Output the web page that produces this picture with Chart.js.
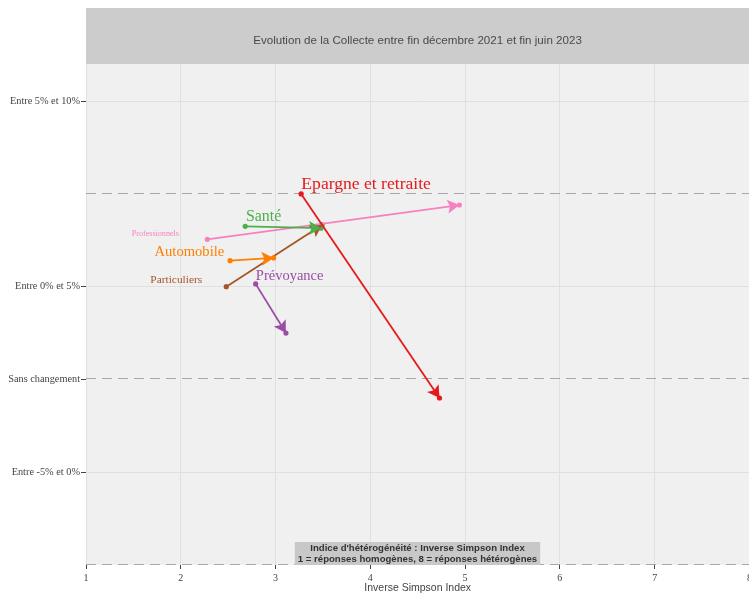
<!DOCTYPE html>
<html>
<head>
<meta charset="utf-8">
<script src="https://cdn.jsdelivr.net/npm/chart.js@4.4.0/dist/chart.umd.min.js"></script>
<style>
  html, body { margin: 0; padding: 0; background: #ffffff; overflow: hidden; }
  #wrap { width: 749px; height: 593px; position: relative; overflow: hidden; }
</style>
</head>
<body>
<div id="wrap"><canvas id="c" width="752" height="593"></canvas></div>
<script>
// ---- Data ----
const seriesNames = ['Epargne et retraite', 'Santé', 'Professionnels', 'Automobile', 'Particuliers', 'Prévoyance'];
const xStart = [3.27, 2.68, 2.28, 2.52, 2.48, 2.79];
const yStart = [2.00, 1.65, 1.51, 1.28, 1.00, 1.03];
const xEnd   = [4.73, 3.48, 4.94, 2.98, 3.49, 3.11];
const yEnd   = [-0.20, 1.63, 1.88, 1.31, 1.665, 0.50];

const yTickValues = [3, 1, 0, -1];
const yTickLabels = ['Entre 5% et 10%', 'Entre 0% et 5%', 'Sans changement', 'Entre -5% et 0%'];
const xTickValues = [1, 2, 3, 4, 5, 6, 7, 8];
const refLines = [2, 0, -2];

const titleText = 'Evolution de la Collecte entre fin décembre 2021 et fin juin 2023';
const xAxisTitle = 'Inverse Simpson Index';
const noteLines = ["Indice d'hétérogénéité : Inverse Simpson Index", '1 = réponses homogènes, 8 = réponses hétérogènes'];

// ---- Styles (not data) ----
const colors = ['#e41a1c', '#4daf4a', '#f781bf', '#ff7f00', '#a65628', '#984ea3'];
const labelStyle = [
  { size: 17.6, dx: 65,  dy: -10 },
  { size: 15.9, dx: 18.4, dy: -10 },
  { size: 8.1,  dx: -52, dy: -5.4 },
  { size: 14.6, dx: -40.7, dy: -8.7 },
  { size: 11.4, dx: -50, dy: -6.7 },
  { size: 14.5, dx: 34,  dy: -7.7 }
];
const SERIF = '"Liberation Serif", "Times New Roman", serif';
const SANS = '"Liberation Sans", Arial, sans-serif';

const datasets = seriesNames.map((name, i) => ({
  label: name,
  data: [{ x: xStart[i], y: yStart[i] }, { x: xEnd[i], y: yEnd[i] }],
  borderColor: colors[i],
  backgroundColor: colors[i],
  borderWidth: 1.8,
  pointRadius: 2.6,
  pointHoverRadius: 2.6,
  pointBorderWidth: 0,
  showLine: true,
  order: i
}));

const bgPlugin = {
  id: 'bgPlugin',
  beforeDraw(chart) {
    const { ctx, chartArea: a } = chart;
    ctx.save();
    ctx.fillStyle = '#ffffff';
    ctx.fillRect(0, 0, chart.width, chart.height);
    ctx.fillStyle = '#f0f0f0';
    ctx.fillRect(a.left, a.top, a.right - a.left, a.bottom - a.top);
    // title banner
    ctx.fillStyle = '#cccccc';
    ctx.fillRect(a.left, 8, a.right - a.left, a.top - 8);
    ctx.fillStyle = '#4a4a4a';
    ctx.font = '11.6px ' + SANS;
    ctx.textAlign = 'center';
    ctx.textBaseline = 'middle';
    ctx.fillText(titleText, (a.left + 749) / 2, 41);
    ctx.restore();
  },
  beforeDatasetsDraw(chart) {
    const { ctx, chartArea: a, scales } = chart;
    ctx.save();
    ctx.strokeStyle = '#a8a8a8';
    ctx.lineWidth = 1;
    ctx.setLineDash([10, 6]);
    refLines.forEach(v => {
      const y = Math.round(scales.y.getPixelForValue(v)) - 0.5;
      ctx.beginPath();
      ctx.moveTo(a.left, y);
      ctx.lineTo(a.right, y);
      ctx.stroke();
    });
    ctx.restore();
  },
  afterDatasetsDraw(chart) {
    const { ctx, chartArea: a } = chart;
    ctx.save();
    const n = chart.data.datasets.length;
    for (let i = n - 1; i >= 0; i--) {
      const meta = chart.getDatasetMeta(i);
      const p0 = meta.data[0], p1 = meta.data[1];
      const ang = Math.atan2(p1.y - p0.y, p1.x - p0.x);
      const L = 12, W = 7, N = 9.5;
      ctx.fillStyle = colors[i];
      ctx.save();
      ctx.translate(p1.x, p1.y);
      ctx.rotate(ang);
      ctx.beginPath();
      ctx.moveTo(0, 0);
      ctx.lineTo(-L, -W);
      ctx.lineTo(-N, 0);
      ctx.lineTo(-L, W);
      ctx.closePath();
      ctx.fill();
      ctx.restore();
    }
    chart.data.datasets.forEach((ds, i) => {
      const p0 = chart.getDatasetMeta(i).data[0];
      const st = labelStyle[i];
      ctx.fillStyle = colors[i];
      ctx.font = st.size + 'px ' + SERIF;
      ctx.textAlign = 'center';
      ctx.textBaseline = 'middle';
      ctx.fillText(ds.label, p0.x + st.dx, p0.y + st.dy);
    });
    // note box
    ctx.font = 'bold 9.6px ' + SANS;
    const w = Math.max(...noteLines.map(t => ctx.measureText(t).width)) + 6;
    const cx = (a.left + 749) / 2;
    const h = 23;
    ctx.fillStyle = '#c8c8c8';
    ctx.fillRect(cx - w / 2, a.bottom - h, w, h);
    ctx.fillStyle = '#333333';
    ctx.textAlign = 'center';
    ctx.textBaseline = 'middle';
    ctx.fillText(noteLines[0], cx, a.bottom - h + 6.5);
    ctx.fillText(noteLines[1], cx, a.bottom - h + 17);
    ctx.restore();
  }
};

new Chart(document.getElementById('c'), {
  type: 'scatter',
  data: { datasets },
  options: {
    responsive: false,
    animation: false,
    devicePixelRatio: 1,
    layout: { padding: { top: 64, left: 0, right: 0, bottom: 0 } },
    plugins: { legend: { display: false }, tooltip: { enabled: false }, title: { display: false } },
    scales: {
      x: {
        type: 'linear',
        min: 1, max: 8,
        afterBuildTicks(scale) { scale.ticks = xTickValues.map(v => ({ value: v })); },
        afterFit(scale) { scale.height = 28; scale.paddingLeft = 0; scale.paddingRight = 0; },
        border: { display: false },
        grid: { color: '#e0e0e0', lineWidth: 1, tickLength: 4, tickColor: '#444444', drawTicks: true },
        ticks: { color: '#444444', font: { family: SERIF, size: 10 }, padding: 3, maxRotation: 0 },
        title: { display: true, text: xAxisTitle, color: '#444444', font: { family: SANS, size: 10.5 }, padding: { top: 0, bottom: -1 } }
      },
      y: {
        type: 'linear',
        min: -2, max: 3.4,
        afterBuildTicks(scale) { scale.ticks = yTickValues.map(v => ({ value: v })); },
        afterFit(scale) { scale.width = 86; scale.paddingTop = 0; scale.paddingBottom = 0; },
        border: { display: false },
        grid: {
          color: ctx => (ctx.tick && ctx.tick.value === 0) ? 'rgba(0,0,0,0)' : '#e0e0e0',
          lineWidth: 1, tickLength: 5, tickColor: '#444444', drawTicks: true
        },
        ticks: {
          color: '#444444', font: { family: SERIF, size: 10.3 }, padding: 1,
          callback: (v) => { const k = yTickValues.indexOf(v); return k >= 0 ? yTickLabels[k] : ''; }
        }
      }
    }
  },
  plugins: [bgPlugin]
});
</script>
</body>
</html>
